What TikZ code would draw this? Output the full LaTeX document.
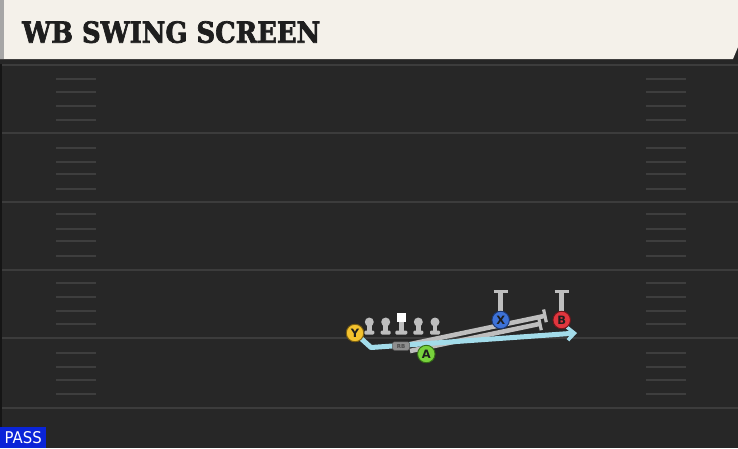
\documentclass[tikz,border=0pt]{standalone}
\usepackage{fontspec}
\usetikzlibrary{arrows.meta}
\newfontfamily\titlefont[FakeBold=2.5]{DejaVu Serif Bold}
\newfontfamily\lblfont{DejaVu Sans}
\definecolor{fieldc}{HTML}{272727}
\definecolor{yardc}{HTML}{3C3C3C}
\definecolor{hashc}{HTML}{3E3E3E}
\definecolor{creamc}{HTML}{F4F1EA}
\definecolor{titlec}{HTML}{1E1E1E}
\definecolor{routec}{HTML}{BEBEBE}
\definecolor{cyanc}{HTML}{A3DCEA}
\definecolor{ycol}{HTML}{F3C22E}
\definecolor{ydark}{HTML}{7A5E10}
\definecolor{xcol}{HTML}{3D72D8}
\definecolor{xdark}{HTML}{1B3670}
\definecolor{bcol}{HTML}{E0363E}
\definecolor{bdark}{HTML}{6E161B}
\definecolor{acol}{HTML}{78D23C}
\definecolor{adark}{HTML}{356E16}
\definecolor{passc}{HTML}{0A24D8}
\pgfdeclarelayer{back}
\pgfdeclarelayer{mid}
\pgfsetlayers{back,mid,main}
\tikzset{
  yard/.style={draw=yardc, line width=2pt},
  hashmark/.style={draw=hashc, line width=1.6pt},
  player/.style={circle, minimum size=17.5pt, inner sep=0pt, line width=0.9pt,
    font=\lblfont\bfseries\fontsize{11.5}{11.5}\selectfont, text=titlec},
  olhead/.style={circle, fill=routec, minimum size=9pt, inner sep=0pt},
  olpart/.style={fill=routec},
  block/.style={draw=routec, line width=4.6pt, -{Bar[width=13pt,line width=3.2pt]}},
  swing/.style={draw=cyanc, line width=5pt, line join=round, line cap=round,
    -{Straight Barb[length=7pt,width=13pt,line width=3.5pt]}},
  rbbox/.style={rectangle, rounded corners=2pt, fill=routec!75!black, draw=routec!45!black,
    line width=0.5pt, minimum width=17pt, minimum height=8.5pt, inner sep=0pt,
    font=\lblfont\bfseries\fontsize{5.5}{5.5}\selectfont, text=titlec!80}
}
\begin{document}
\begin{tikzpicture}[x=1pt,y=-1pt]
\useasboundingbox (0,0) rectangle (738,448);
\begin{pgfonlayer}{back}
\fill[fieldc] (0,0) rectangle (738,448);
\foreach \yy in {65,133,201.5,270,338,408} \draw[yard] (0,\yy) -- (738,\yy);
\foreach \yy in {79,92,106,120,148,162,174,189,214,229,241,256,283,297,311,324,353,367,380,394} {
  \draw[hashmark] (56,\yy) -- (96,\yy);
  \draw[hashmark] (646,\yy) -- (686,\yy);
}
\draw[draw=yardc!120, line width=2pt] (1,60) -- (1,448);
\fill[black!85] (0,58) rectangle (738,64);
\fill[creamc] (0,0) -- (738,0) -- (738,47) -- (733,59) -- (0,59) -- cycle;
\fill[black!35] (0,0) rectangle (4,59);
\end{pgfonlayer}
\node[anchor=south west, inner sep=0pt, text=titlec] (title) at (22,43.3)
  {\resizebox{298pt}{21.5pt}{\titlefont WB SWING SCREEN}};
% players
\node[player, fill=ycol, draw=ydark] (Y) at (355,333) {Y};
\node[player, fill=xcol, draw=xdark] (X) at (500.7,320) {X};
\node[player, fill=bcol, draw=bdark] (B) at (561.7,320) {B};
\node[player, fill=acol, draw=adark] (A) at (426.3,354) {A};
\node[rbbox] (RB) at (401,346) {RB};
% offensive line
\foreach \n/\xx in {1/369.3,2/385.7,4/418.3,5/435} {
  \node[olhead] (ol\n) at (\xx,322) {};
  \begin{pgfonlayer}{mid}
  \fill[olpart] (\xx-2.3,322) rectangle (\xx+2.3,332);
  \fill[olpart, rounded corners=1.2pt] (\xx-5,330.5) rectangle (\xx+5,334.5);
  \end{pgfonlayer}
}
\node[fill=white, minimum size=8.5pt, inner sep=0pt] (ol3) at (401.3,317.7) {};
\begin{pgfonlayer}{mid}
\fill[olpart] (399,322) rectangle (403.6,332);
\fill[olpart, rounded corners=1.2pt] (395.3,330.5) rectangle (407.3,334.5);
\end{pgfonlayer}
% routes
\coordinate (xt) at (500.7,289.5);
\coordinate (bt) at (561.7,289.5);
\coordinate (t1) at (546.5,315.5);
\coordinate (t2) at (541.5,323.5);
\coordinate (r2) at (410,351);
\coordinate (ybend) at (371,347.5);
\coordinate (yend) at (577,333);
\begin{pgfonlayer}{mid}
\draw[block, -{Bar[width=14pt,line width=3.5pt]}] (X) -- (xt);
\draw[block, -{Bar[width=14pt,line width=3.5pt]}] (B) -- (bt);
\draw[block] (RB.center) -- (t1);
\draw[block] (r2) -- (t2);
\draw[swing] (Y.center) -- (ybend) -- (yend);
\end{pgfonlayer}
% pass label
\node[fill=passc, minimum width=46pt, minimum height=21pt, inner sep=0pt, anchor=north west, text=white] (pass) at (0,427)
  {\resizebox{37pt}{12pt}{\lblfont PASS}};
\end{tikzpicture}
\end{document}
